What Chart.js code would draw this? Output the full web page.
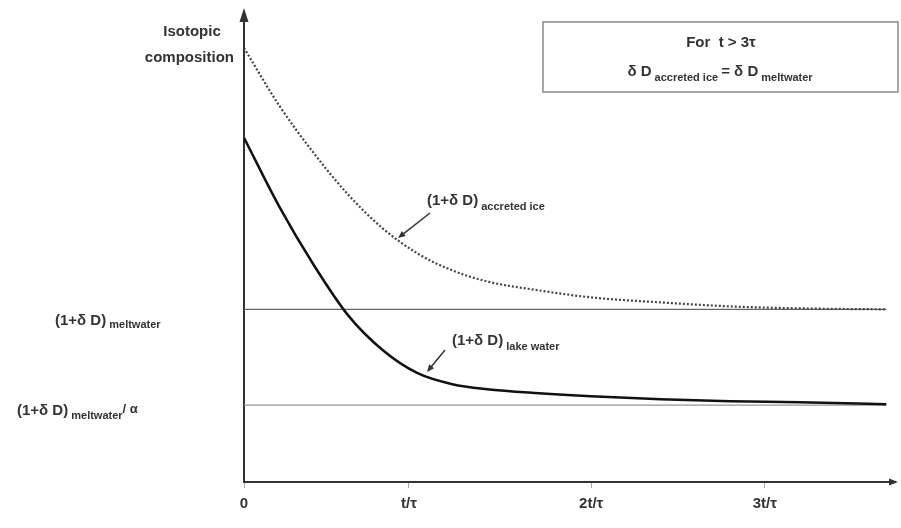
<!DOCTYPE html>
<html>
<head>
<meta charset="utf-8">
<script src="https://cdn.jsdelivr.net/npm/chart.js@4.4.1/dist/chart.umd.min.js"></script>
<style>
  html, body { margin: 0; padding: 0; background: #fff; }
  #wrap { width: 901px; height: 528px; position: relative; }
</style>
</head>
<body>
<div id="wrap"><canvas id="chart" width="901" height="528"></canvas></div>
<script>
// Valores (tiempo en unidades de tau, composicion en unidades arbitrarias)
var timeSteps = [0, 0.2, 0.4, 0.6, 0.8, 1.0, 1.2, 1.4, 1.7, 2.0, 2.4, 2.8, 3.2, 3.7];
var accretedIce = [435, 378, 330, 288, 254, 229, 212, 201, 192, 185, 180, 176, 174, 173];
var lakeWater = [345, 277, 218, 167, 132, 109, 98, 93, 89, 86, 83, 81, 80, 78];
var meltwaterLevel = 173;
var meltwaterAlphaLevel = 77;
var lineEnd = 3.7;

var tickValues = [0, 0.95, 2, 3];
var tickLabels = ['0', 't/\u03c4', '2t/\u03c4', '3t/\u03c4'];

function toPoints(xs, ys) {
    return xs.map(function (x, i) { return { x: x, y: ys[i] }; });
}

var FONT = 'Arial, "Liberation Sans", sans-serif';
var INK = '#333';

// Dibuja texto con subindices; parts = [{t, size, dy}]
function drawRich(ctx, x, y, parts, align) {
    var total = 0;
    parts.forEach(function (p) {
        ctx.font = 'bold ' + p.size + 'px ' + FONT;
        p.w = ctx.measureText(p.t).width;
        total += p.w;
    });
    var cx = align === 'center' ? x - total / 2 : (align === 'right' ? x - total : x);
    ctx.textAlign = 'left';
    ctx.textBaseline = 'alphabetic';
    parts.forEach(function (p) {
        ctx.font = 'bold ' + p.size + 'px ' + FONT;
        ctx.fillText(p.t, cx, y + (p.dy || 0));
        cx += p.w;
    });
}

function arrow(ctx, x1, y1, x2, y2, head) {
    var a = Math.atan2(y2 - y1, x2 - x1);
    ctx.beginPath();
    ctx.moveTo(x1, y1);
    ctx.lineTo(x2 - Math.cos(a) * head * 0.6, y2 - Math.sin(a) * head * 0.6);
    ctx.stroke();
    ctx.beginPath();
    ctx.moveTo(x2, y2);
    ctx.lineTo(x2 - head * Math.cos(a - 0.4), y2 - head * Math.sin(a - 0.4));
    ctx.lineTo(x2 - head * Math.cos(a + 0.4), y2 - head * Math.sin(a + 0.4));
    ctx.closePath();
    ctx.fill();
}

// Plugin de anotaciones: flechas de los ejes, etiquetas y recuadro
var annotations = {
    id: 'annotations',
    afterDraw: function (chart) {
        var ctx = chart.ctx;
        var ys = chart.scales.y;
        var area = chart.chartArea;
        ctx.save();
        ctx.fillStyle = INK;
        ctx.strokeStyle = INK;

        // flechas de los ejes
        ctx.beginPath();
        ctx.moveTo(area.left, area.top - 4);
        ctx.lineTo(area.left - 4.5, area.top + 10);
        ctx.lineTo(area.left + 4.5, area.top + 10);
        ctx.closePath();
        ctx.fill();
        ctx.beginPath();
        ctx.moveTo(area.right + 3, area.bottom);
        ctx.lineTo(area.right - 6, area.bottom - 3.5);
        ctx.lineTo(area.right - 6, area.bottom + 3.5);
        ctx.closePath();
        ctx.fill();

        // titulo del eje y
        ctx.font = 'bold 15px ' + FONT;
        ctx.textAlign = 'center';
        ctx.fillText('Isotopic', 192, 36);
        ctx.textAlign = 'right';
        ctx.fillText('composition', 234, 62);

        // etiquetas de los niveles
        var ym = ys.getPixelForValue(meltwaterLevel);
        var ya = ys.getPixelForValue(meltwaterAlphaLevel);
        drawRich(ctx, 55, ym + 16, [
            { t: '(1+\u03b4 D)', size: 15 },
            { t: ' meltwater', size: 11, dy: 3 }
        ], 'left');
        drawRich(ctx, 17, ya + 10, [
            { t: '(1+\u03b4 D)', size: 15 },
            { t: ' meltwater', size: 11, dy: 4 },
            { t: '/ \u03b1', size: 13, dy: -2 }
        ], 'left');

        // etiquetas de las curvas
        drawRich(ctx, 427, 205, [
            { t: '(1+\u03b4 D)', size: 15 },
            { t: ' accreted ice', size: 11, dy: 5 }
        ], 'left');
        drawRich(ctx, 452, 345, [
            { t: '(1+\u03b4 D)', size: 15 },
            { t: ' lake water', size: 11, dy: 5 }
        ], 'left');
        ctx.lineWidth = 1.5;
        arrow(ctx, 430, 213, 398, 238, 8);
        arrow(ctx, 445, 350, 427, 372, 8);

        // recuadro
        ctx.strokeStyle = '#8a8a8a';
        ctx.lineWidth = 1.5;
        ctx.strokeRect(543, 22, 355, 70);
        ctx.fillStyle = INK;
        drawRich(ctx, 721, 47, [
            { t: 'For  t > 3\u03c4', size: 15 }
        ], 'center');
        drawRich(ctx, 720, 76, [
            { t: '\u03b4 D', size: 15 },
            { t: ' accreted ice ', size: 11, dy: 5 },
            { t: '= \u03b4 D', size: 15 },
            { t: ' meltwater', size: 11, dy: 5 }
        ], 'center');
        ctx.restore();
    }
};

new Chart(document.getElementById('chart'), {
    type: 'line',
    data: {
        datasets: [
            {
                label: 'accreted ice',
                data: toPoints(timeSteps, accretedIce),
                borderColor: '#444',
                borderWidth: 2.2,
                borderDash: [2, 2],
                cubicInterpolationMode: 'monotone',
                pointRadius: 0
            },
            {
                label: 'lake water',
                data: toPoints(timeSteps, lakeWater),
                borderColor: '#111',
                borderWidth: 2.5,
                cubicInterpolationMode: 'monotone',
                pointRadius: 0
            },
            {
                label: 'meltwater',
                data: [{ x: 0, y: meltwaterLevel }, { x: lineEnd, y: meltwaterLevel }],
                borderColor: '#666',
                borderWidth: 1.2,
                pointRadius: 0
            },
            {
                label: 'meltwater / alpha',
                data: [{ x: 0, y: meltwaterAlphaLevel }, { x: lineEnd, y: meltwaterAlphaLevel }],
                borderColor: '#8797aa',
                borderWidth: 1.2,
                pointRadius: 0
            }
        ]
    },
    options: {
        responsive: false,
        animation: false,
        layout: { padding: { left: 236, top: 12, right: 6, bottom: 8 } },
        plugins: {
            legend: { display: false },
            tooltip: { enabled: false }
        },
        scales: {
            x: {
                type: 'linear',
                min: 0,
                max: 3.75,
                afterBuildTicks: function (axis) {
                    axis.ticks = tickValues.map(function (v) { return { value: v }; });
                },
                ticks: {
                    autoSkip: false,
                    maxRotation: 0,
                    padding: 7,
                    color: INK,
                    font: { family: FONT, size: 15, weight: 'bold' },
                    callback: function (value) {
                        var i = tickValues.indexOf(value);
                        return i >= 0 ? tickLabels[i] : '';
                    }
                },
                grid: { drawOnChartArea: false, drawTicks: true, tickLength: 6, color: '#aaa' },
                border: { color: INK, width: 2 }
            },
            y: {
                min: 0,
                max: 471,
                ticks: { display: false },
                grid: { display: false },
                border: { color: INK, width: 2 }
            }
        }
    },
    plugins: [annotations]
});
</script>
</body>
</html>
